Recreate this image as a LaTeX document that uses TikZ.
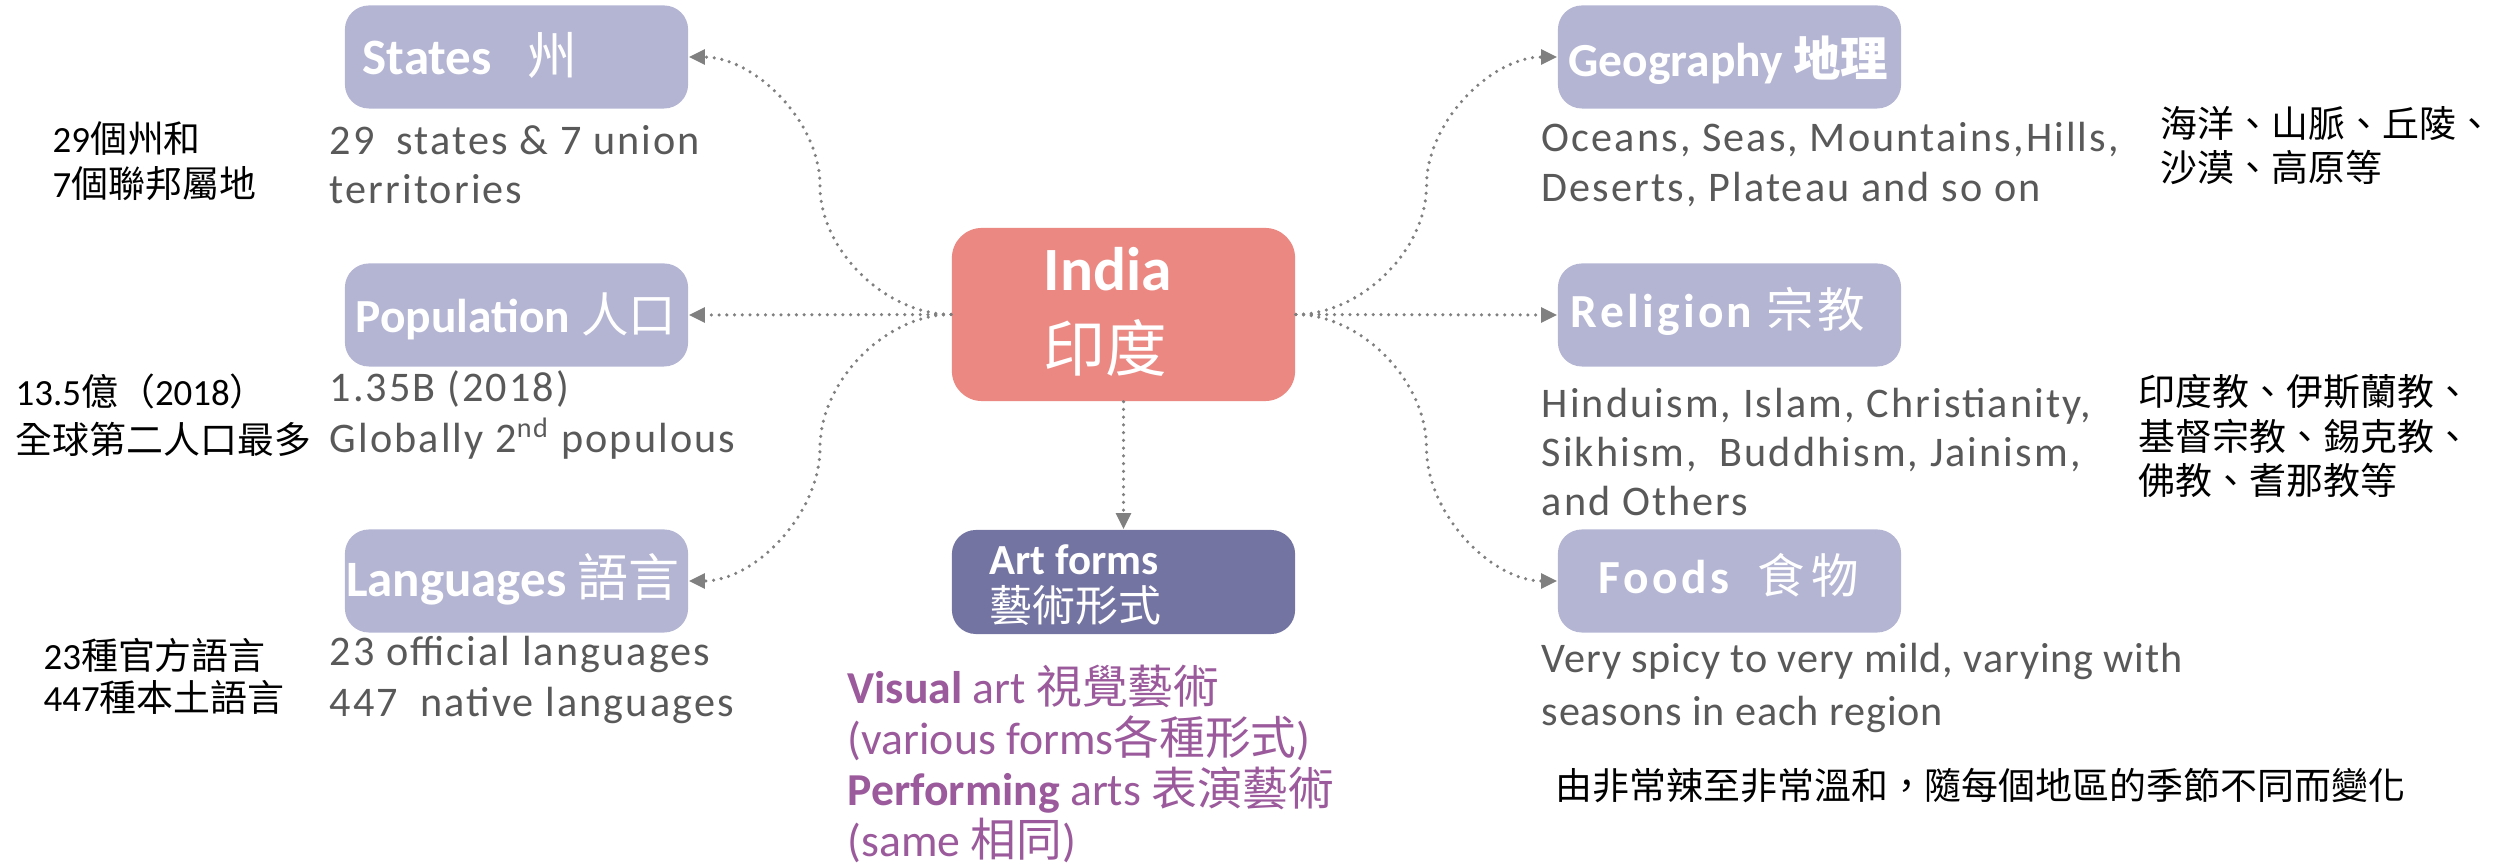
\documentclass[tikz,border=0pt]{standalone}
\usepackage{fontspec}
\setmainfont{Carlito}
\newfontfamily\cjk{Noto Sans CJK TC}
\newfontfamily\descfont[LetterSpace=5]{Carlito}
\newfontfamily\spfont[LetterSpace=7]{Carlito}
\newfontfamily\foodfont[LetterSpace=2]{Carlito}
\usetikzlibrary{arrows.meta,calc}
\definecolor{boxlav}{RGB}{180,181,211}
\definecolor{indiared}{RGB}{235,136,130}
\definecolor{artpurple}{RGB}{116,116,162}
\definecolor{linegray}{RGB}{128,128,128}
\definecolor{descgray}{RGB}{89,89,89}
\definecolor{violettext}{RGB}{155,90,155}
\tikzset{
  topicbox/.style={fill=boxlav, draw=none, rounded corners=0.24cm, inner sep=0pt,
    minimum width=3.43cm, minimum height=1.03cm},
  titletext/.style={text=white, inner sep=0pt, font=\fontsize{13.5}{16}\selectfont\bfseries},
  desctext/.style={text=descgray, inner sep=0pt, align=left, font=\fontsize{12}{14}\descfont},
  notetext/.style={text=black, inner sep=0pt, align=left, font=\fontsize{10.5}{12.7}\selectfont},
  conn/.style={draw=linegray, line width=1pt, dash pattern=on 0pt off 2.2pt, line cap=round,
    -{Triangle[length=4.6pt,width=4.2pt]}},
  scurve/.style={to path={let \p1=(\tikztostart), \p2=(\tikztotarget) in
    .. controls ({\x1+0.25*(\x2-\x1)},\y1) and ({0.5*(\x1+\x2)},{\y1+0.25*(\y2-\y1)})
    .. ({0.5*(\x1+\x2)},{0.5*(\y1+\y2)})
    .. controls ({0.5*(\x1+\x2)},{\y1+0.75*(\y2-\y1)}) and ({\x1+0.75*(\x2-\x1)},\y2)
    .. (\p2)}}
}
\begin{document}
\begin{tikzpicture}[x=0.01cm, y=-0.01cm]
\useasboundingbox (0,0) rectangle (2496,865);

% boxes
\node[topicbox] (states) at (516.5,57) {};
\node[topicbox] (pop) at (516.5,315) {};
\node[topicbox] (lang) at (516.5,581) {};
\node[topicbox, fill=indiared, rounded corners=0.3cm, minimum height=1.73cm] (india) at (1123.5,314.5) {};
\node[topicbox, fill=artpurple, minimum height=1.04cm] (art) at (1123.5,582) {};
\node[topicbox] (geo) at (1729.5,57) {};
\node[topicbox] (rel) at (1729.5,315) {};
\node[topicbox] (food) at (1729.5,581) {};

% titles
\node[titletext, font=\fontsize{14.5}{17}\selectfont\bfseries, anchor=west] (statesT) at (362,55) {States\hspace{10pt}{\mdseries\cjk 州}};
\node[titletext] (popT) at (516,316) {Population {\mdseries\cjk 人口}};
\node[titletext, font=\fontsize{14.5}{17}\selectfont\bfseries] (langT) at (513,579) {Languages {\mdseries\cjk 語言}};
\node[titletext, anchor=west] (geoT) at (1568,60) {Geography {\cjk 地理}};
\node[titletext, font=\fontsize{13.5}{16}\spfont\bfseries, anchor=west] (relT) at (1570,311) {Religion {\mdseries\cjk 宗\hspace{1pt}教}};
\node[titletext, font=\fontsize{13.5}{16}\spfont\bfseries] (foodT) at (1729,575) {Foods\hspace{4pt} {\mdseries\cjk 食\hspace{2pt}物}};
\node[titletext, anchor=west, align=left, font=\fontsize{17.5}{23}\selectfont\bfseries] (indiaT) at (1043,312) {India\\{\mdseries\cjk 印度}};
\node[titletext, anchor=west, align=left, font=\fontsize{12.2}{13.4}\selectfont\bfseries] (artT) at (989,585) {Art forms\\{\mdseries\cjk 藝術形式}};

% descriptions
\node[desctext, anchor=west] (statesD) at (329,164.5) {29\hspace{3pt} states \& 7 union\\territories};
\node[desctext, anchor=west, font=\fontsize{12}{14.5}\descfont] (popD) at (329,415) {1.35B (2018)\\Globally 2\textsuperscript{nd} populous};
\node[desctext, anchor=west, font=\fontsize{12}{14.5}\descfont] (langD) at (329,680) {23 official languages\\447\hspace{3pt} native languages};
\node[desctext, anchor=west] (geoD) at (1541,164.5) {Oceans, Seas, Mountains,Hills,\\Deserts, Plateau and so on};
\node[desctext, anchor=west] (relD) at (1541,452) {Hinduism, Islam, Christianity,\\Sikhism,\hspace{3pt} Buddhism, Jainism,\\and Others};
\node[desctext, anchor=west, font=\fontsize{12}{15}\foodfont] (foodD) at (1541,688) {Very spicy to very mild, varying with\\seasons in each region};

% black notes
\node[notetext, anchor=west] (statesN) at (52,161) {29{\cjk 個州和}\\7{\cjk 個聯邦屬地}};
\node[notetext, anchor=west, font=\fontsize{10.5}{13.8}\selectfont] (popN) at (15,415) {13.5{\cjk 億（}2018{\cjk ）}\\{\cjk 全球第二人口最多}};
\node[notetext, anchor=west, font=\fontsize{10.5}{12}\selectfont] (langN) at (43,676) {23{\cjk 種官方語言}\\447{\cjk 種本土語言}};
\node[notetext, anchor=west, font=\fontsize{10.5}{12.7}\cjk] (geoN) at (2160,145.5) {海洋、山脈、丘陵、\\沙漠、高原等};
\node[notetext, anchor=west, font=\fontsize{10.5}{12.7}\cjk] (relN) at (2138,436) {印度教、伊斯蘭教、\\基督宗教、錫克教、\\佛教、耆那教等};
\node[notetext, anchor=west, font=\fontsize{10.5}{12.7}\cjk] (foodN) at (1555,786) {由非常辣至非常溫和，隨每個地區的季節不同而變化};

% art forms text
\node[text=violettext, inner sep=0pt, align=left, anchor=west, font=\fontsize{13}{14.5}\selectfont] (artD) at (847,764)
  {{\bfseries Visual} art {\cjk 視覺藝術}\\
   (various forms{\cjk 各種形式})\\
   {\bfseries Performing} arts {\cjk 表演藝術}\\
   (same {\cjk 相同})};

% connectors
\draw[conn] (india.west) to[scurve] (states.east);
\draw[conn] (india.west) -- (pop.east);
\draw[conn] (india.west) to[scurve] (lang.east);
\draw[conn] (india.south) -- (art.north);
\draw[conn] (india.east) to[scurve] (geo.west);
\draw[conn] (india.east) -- (rel.west);
\draw[conn] (india.east) to[scurve] (food.west);
\end{tikzpicture}
\end{document}
